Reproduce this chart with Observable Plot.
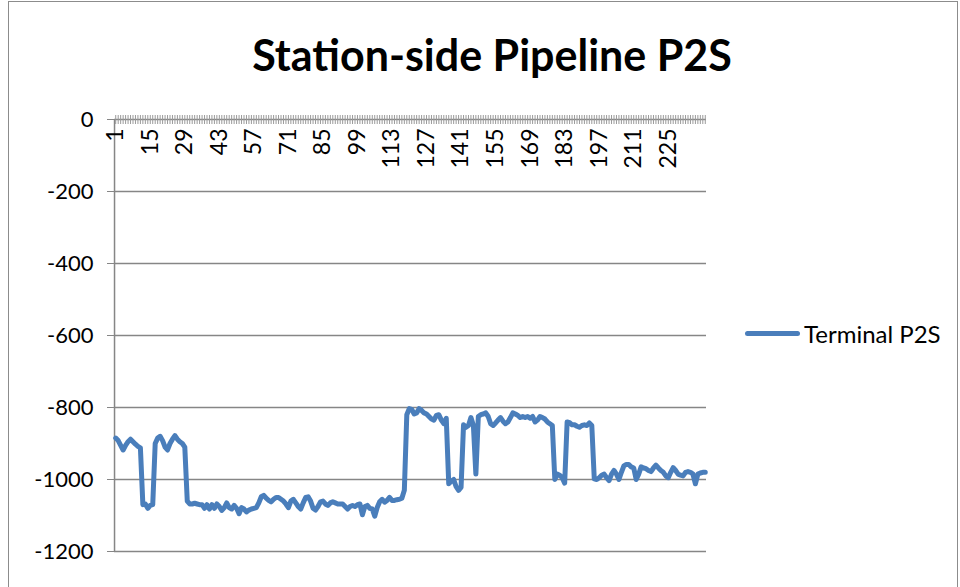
<!DOCTYPE html>
<html><head><meta charset="utf-8">
<script src="https://cdn.jsdelivr.net/npm/d3@7"></script>
<script src="https://cdn.jsdelivr.net/npm/@observablehq/plot@0.6"></script>
<style>
body{margin:0;background:#fff;}
#wrap{position:relative;width:960px;height:587px;overflow:hidden;font-family:Lato,"Open Sans",sans-serif;background:#fff;}
#border{position:absolute;left:8px;top:1px;width:950px;height:620px;border:1.5px solid #8c8c8c;box-sizing:border-box;}
#title{position:absolute;left:0;width:984px;top:29px;text-align:center;font-weight:bold;font-size:43px;color:#000;line-height:1.2;}
#legend{position:absolute;left:745px;top:319px;display:flex;align-items:center;font-size:24px;color:#000;}
#legend .sw{width:55px;height:5px;background:#4a7ebb;border-radius:3px;margin-right:4px;}
#chart{position:absolute;left:0;top:0;}
</style></head><body>
<div id="wrap"><div id="border"></div><div id="chart"></div><div id="title">Station-side Pipeline P2S</div><div id="legend"><div class="sw"></div><span>Terminal P2S</span></div></div>
<script>
const categories = d3.range(1, 241);
const values = [
 -885, -892, -905, -918, -905, -895, -888, -895, -902, -908,
 -912, -1070, -1068, -1080, -1072, -1070, -900, -885, -880, -892,
 -910, -918, -900, -888, -878, -888, -895, -900, -910, -1060,
 -1068, -1068, -1066, -1068, -1070, -1070, -1080, -1070, -1082, -1070,
 -1080, -1068, -1075, -1086, -1078, -1065, -1078, -1082, -1072, -1080,
 -1095, -1078, -1082, -1090, -1085, -1082, -1080, -1078, -1065, -1048,
 -1044, -1052, -1058, -1062, -1055, -1050, -1050, -1055, -1060, -1068,
 -1078, -1060, -1055, -1065, -1075, -1082, -1065, -1050, -1048, -1060,
 -1080, -1085, -1075, -1062, -1060, -1068, -1072, -1065, -1062, -1065,
 -1068, -1068, -1068, -1075, -1082, -1075, -1072, -1075, -1070, -1068,
 -1098, -1075, -1072, -1080, -1082, -1102, -1078, -1062, -1055, -1063,
 -1058, -1050, -1058, -1058, -1056, -1055, -1052, -1030, -820, -803,
 -805, -818, -815, -803, -808, -815, -818, -825, -832, -835,
 -822, -820, -835, -845, -830, -1012, -1005, -1000, -1020, -1030,
 -1022, -848, -855, -850, -828, -850, -985, -825, -820, -818,
 -815, -825, -845, -850, -843, -835, -828, -838, -845, -840,
 -828, -815, -818, -822, -828, -825, -828, -825, -830, -825,
 -840, -835, -825, -828, -832, -840, -845, -850, -1000, -985,
 -988, -995, -1010, -840, -842, -848, -848, -852, -855, -850,
 -848, -850, -843, -850, -998, -1000, -995, -988, -985, -995,
 -1003, -985, -975, -985, -1000, -980, -962, -958, -958, -965,
 -968, -1000, -985, -965, -968, -970, -975, -978, -968, -960,
 -968, -975, -980, -990, -995, -980, -967, -975, -985, -988,
 -990, -980, -978, -980, -985, -1012, -985, -982, -980, -980
];
const yTicks = [0, -200, -400, -600, -800, -1000, -1200];
const xTickLabels = [1, 15, 29, 43, 57, 71, 85, 99, 113, 127, 141, 155, 169, 183, 197, 211, 225];
const seriesName = "Terminal P2S";

const data = categories.map((c, i) => ({cat: c, value: values[i], series: seriesName}));
const gridColor = "#868686";

const plot = Plot.plot({
  width: 960, height: 587,
  marginLeft: 114, marginRight: 254, marginTop: 119, marginBottom: 36,
  style: {fontFamily: "Lato, 'Open Sans', sans-serif", color: "#000", background: "transparent"},
  x: {type: "point", domain: categories, padding: 0.5, axis: null},
  y: {domain: [-1200, 0], axis: null},
  marks: [
    Plot.ruleY(yTicks.filter(d => d !== 0), {stroke: gridColor, strokeWidth: 1.5}),
    Plot.ruleY([0], {stroke: gridColor, strokeWidth: 1.5}),
    Plot.ruleX(categories, {x: d => d, y1: 0, y2: 0, insetTop: -4, insetBottom: -5, stroke: "#9a9a9a", strokeWidth: 1}),
    Plot.ruleX([categories[0]], {dx: -1.2, stroke: gridColor, strokeWidth: 1.5}),
    Plot.axisY({ticks: yTicks, label: null, tickSize: 7, tickPadding: 14, fontSize: 22, stroke: gridColor, fill: "#000", tickFormat: d => String(d)}),
    Plot.text(xTickLabels, {x: d => d, y: 0, text: d => String(d), rotate: -90, textAnchor: "end", dy: 9, fontSize: 23, fill: "#000"}),
    Plot.line(data, {x: "cat", y: "value", stroke: "#4a7ebb", strokeWidth: 5, strokeLinejoin: "round", strokeLinecap: "round"})
  ]
});
document.getElementById("chart").appendChild(plot);
</script>
</body></html>
